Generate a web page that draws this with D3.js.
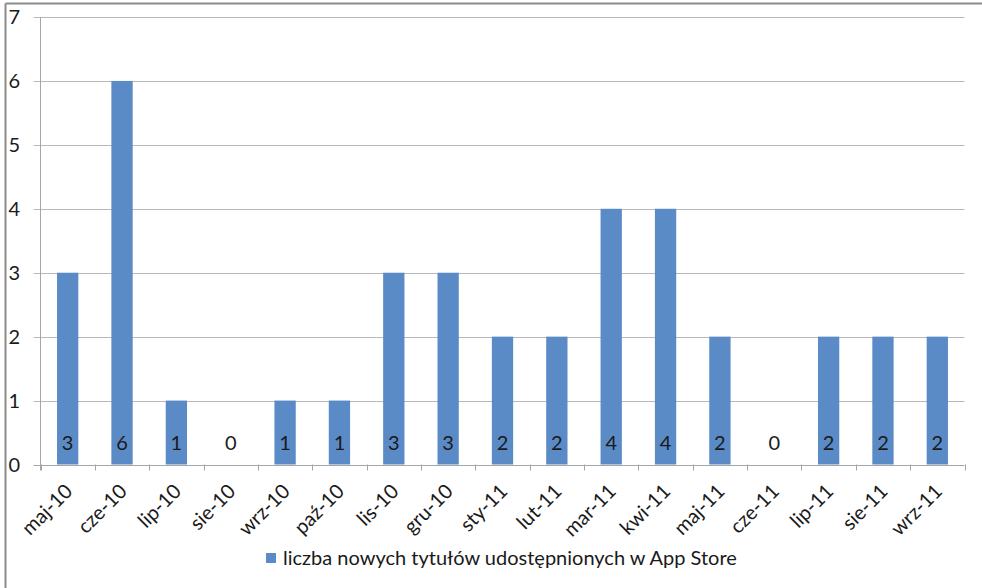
<!DOCTYPE html>
<html lang="pl">
<head>
<meta charset="utf-8" />
<title>liczba nowych tytułów</title>
<script src="https://cdn.jsdelivr.net/npm/d3@7"></script>
<style>
  body { margin: 0; background: #fff; }
  svg { display: block; font-family: Lato, "Open Sans", sans-serif; }
</style>
</head>
<body>
<script>
// data
var months = ["maj-10","cze-10","lip-10","sie-10","wrz-10","paź-10","lis-10","gru-10",
              "sty-11","lut-11","mar-11","kwi-11","maj-11","cze-11","lip-11","sie-11","wrz-11"];
var titles = [3,6,1,0,1,1,3,3,2,2,4,4,2,0,2,2,2];
var yTicks = [0,1,2,3,4,5,6,7];
var seriesName = "liczba nowych tytułów udostępnionych w App Store";

var width = 982, height = 588;
var plotLeft = 40.5, plotRight = 964.5, plotTop = 17, plotBottom = 464.5;
var fontSize = 20;

var svg = d3.select("body").append("svg")
    .attr("width", width)
    .attr("height", height);

// outer frame (only top + left visible in the crop)
svg.append("line").attr("x1", 5.5).attr("x2", width).attr("y1", 3.5).attr("y2", 3.5)
   .attr("stroke", "#8c8c8c").attr("stroke-width", 2);
svg.append("line").attr("x1", 5.5).attr("x2", 5.5).attr("y1", 3.5).attr("y2", height)
   .attr("stroke", "#8c8c8c").attr("stroke-width", 2);

var x = d3.scaleBand()
    .domain(months)
    .range([plotLeft, plotRight])
    .paddingInner(0.608)
    .paddingOuter(0.304);

var y = d3.scaleLinear().domain([0, 7]).range([plotBottom, plotTop]);

// gridlines + y labels
var grid = svg.append("g");
grid.selectAll("line").data(yTicks).enter().append("line")
    .attr("x1", plotLeft - 7).attr("x2", plotRight)
    .attr("y1", function(d) { return Math.round(y(d)) + 0.5; })
    .attr("y2", function(d) { return Math.round(y(d)) + 0.5; })
    .attr("stroke", function(d) { return d == 0 ? "#a6a6a6" : "#b8b8b8"; })
    .attr("stroke-width", 1);

grid.selectAll("text").data(yTicks).enter().append("text")
    .attr("x", 20)
    .attr("y", function(d) { return y(d); })
    .attr("dy", "0.36em")
    .attr("text-anchor", "end")
    .attr("font-size", fontSize)
    .attr("fill", "#1a1a1a")
    .text(function(d) { return d; });

// y axis line
svg.append("line")
    .attr("x1", plotLeft).attr("x2", plotLeft)
    .attr("y1", plotTop).attr("y2", plotBottom + 6)
    .attr("stroke", "#a6a6a6");

// x tick marks at category boundaries
var step = x.step();
var bounds = d3.range(months.length + 1);
svg.append("g").selectAll("line").data(bounds).enter().append("line")
    .attr("x1", function(i) { return Math.round(plotLeft + i * step) + 0.5; })
    .attr("x2", function(i) { return Math.round(plotLeft + i * step) + 0.5; })
    .attr("y1", plotBottom).attr("y2", plotBottom + 6)
    .attr("stroke", "#a6a6a6");

// bars
svg.append("g").selectAll("rect").data(titles).enter().append("rect")
    .attr("x", function(d, i) { return x(months[i]); })
    .attr("y", function(d) { return y(d); })
    .attr("width", x.bandwidth())
    .attr("height", function(d) { return y(0) - y(d); })
    .attr("fill", "#5b8bc6");

// data labels
svg.append("g").selectAll("text").data(titles).enter().append("text")
    .attr("x", function(d, i) { return x(months[i]) + x.bandwidth() / 2; })
    .attr("y", 443)
    .attr("dy", "0.36em")
    .attr("text-anchor", "middle")
    .attr("font-size", fontSize)
    .attr("fill", "#1a1a1a")
    .text(function(d) { return d; });

// x labels rotated
svg.append("g").selectAll("text").data(months).enter().append("text")
    .attr("transform", function(d) {
        var cx = x(d) + x.bandwidth() / 2 + 1;
        return "translate(" + cx + "," + (plotBottom + 23) + ") rotate(-45)";
    })
    .attr("text-anchor", "end")
    .attr("dy", "0.36em")
    .attr("font-size", fontSize)
    .attr("fill", "#1a1a1a")
    .text(function(d) { return d; });

// legend
var legend = svg.append("g");
legend.append("rect")
    .attr("x", 266).attr("y", 553)
    .attr("width", 10).attr("height", 10)
    .attr("fill", "#5b8bc6");
legend.append("text")
    .attr("x", 283).attr("y", 558)
    .attr("dy", "0.36em")
    .attr("font-size", fontSize)
    .attr("fill", "#1a1a1a")
    .text(seriesName);
</script>
</body>
</html>
